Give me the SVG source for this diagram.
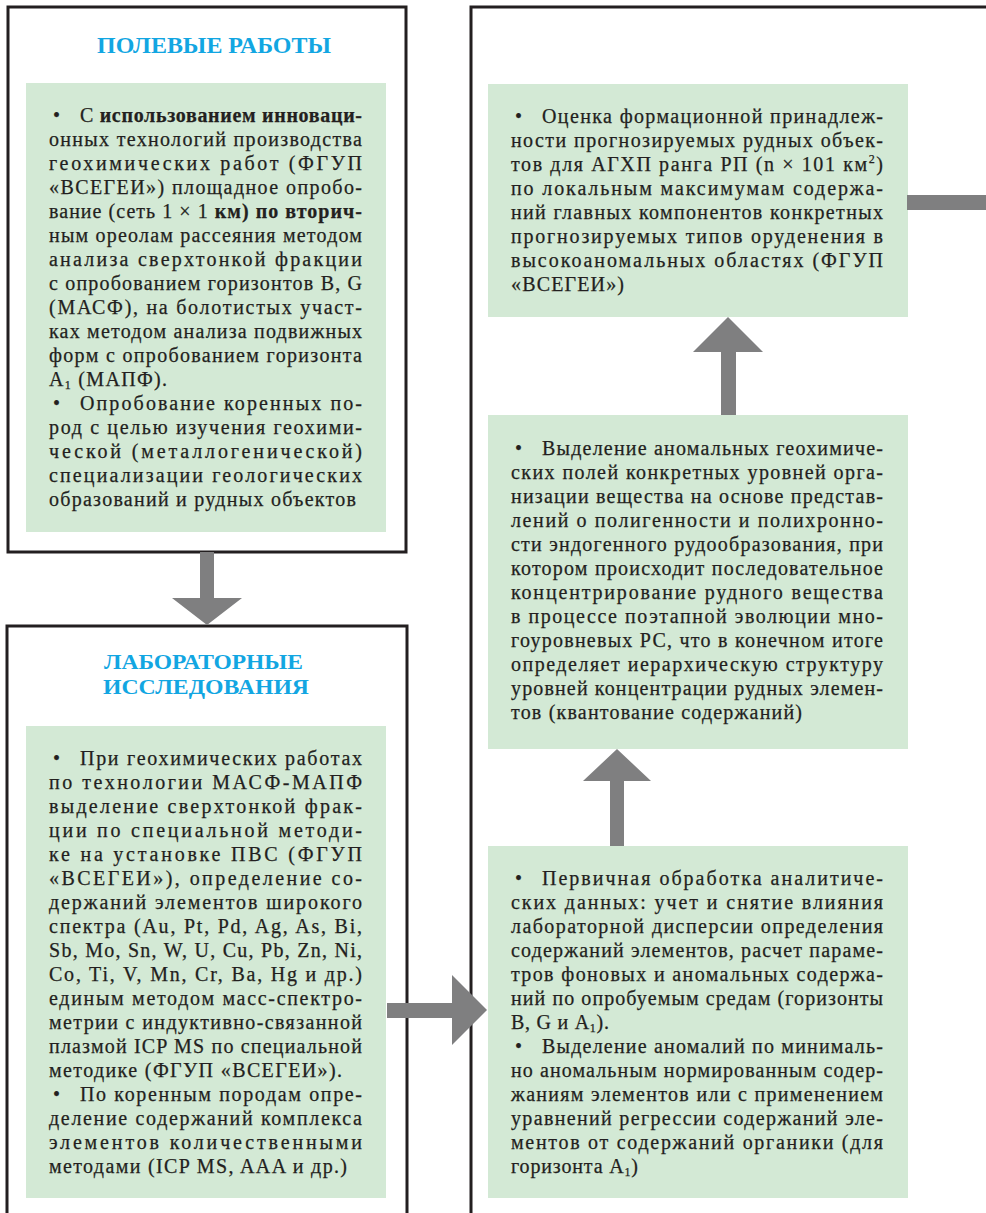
<svg xmlns="http://www.w3.org/2000/svg" width="986" height="1213" viewBox="0 0 986 1213">
<style>
.frame{fill:#ffffff;stroke:#231f20;stroke-width:3}
.panel{fill:#d3e9d5}
.t{font-size:20px;fill:#231f20;stroke:#231f20;stroke-width:0.25}
.b{font-weight:bold}
.ttl{font-weight:bold;fill:#12a6e2}
.sub{font-size:12px}
.arr{fill:#7f7f80}
</style>
<rect x="0" y="0" width="986" height="1213" fill="#ffffff"/>

<g id="node-right-frame">
<rect class="frame" x="471" y="7" width="600" height="1300"/>
</g>

<g id="node-field">
<rect class="frame" x="8" y="7" width="398" height="545"/>
<text class="ttl" font-family="Liberation Serif, serif" font-size="24" x="97" y="53" textLength="234" lengthAdjust="spacingAndGlyphs">ПОЛЕВЫЕ РАБОТЫ</text>
<rect class="panel" x="26" y="83" width="360" height="449"/>
<g class="t" font-family="Liberation Serif, serif">
<text x="53" y="122">•</text>
<text x="80" y="122" textLength="282" lengthAdjust="spacing">С <tspan class="b">использованием инноваци-</tspan></text>
<text x="49" y="146" textLength="313" lengthAdjust="spacing">онных технологий производства</text>
<text x="49" y="170" textLength="313" lengthAdjust="spacing">геохимических работ (ФГУП</text>
<text x="49" y="194" textLength="313" lengthAdjust="spacing">«ВСЕГЕИ») площадное опробо-</text>
<text x="49" y="218" textLength="313" lengthAdjust="spacing">вание (сеть 1 × 1 <tspan class="b">км) по вторич-</tspan></text>
<text x="49" y="242" textLength="313" lengthAdjust="spacing">ным ореолам рассеяния методом</text>
<text x="49" y="266" textLength="313" lengthAdjust="spacing">анализа сверхтонкой фракции</text>
<text x="49" y="290" textLength="313" lengthAdjust="spacing">с опробованием горизонтов B, G</text>
<text x="49" y="314" textLength="313" lengthAdjust="spacing">(МАСФ), на болотистых участ-</text>
<text x="49" y="338" textLength="313" lengthAdjust="spacing">ках методом анализа подвижных</text>
<text x="49" y="362" textLength="313" lengthAdjust="spacing">форм с опробованием горизонта</text>
<text x="49" y="386" textLength="118" lengthAdjust="spacing">A<tspan class="sub" dy="3">1</tspan><tspan dy="-3"> (МАПФ).</tspan></text>
<text x="53" y="410">•</text>
<text x="80" y="410" textLength="282" lengthAdjust="spacing">Опробование коренных по-</text>
<text x="49" y="434" textLength="313" lengthAdjust="spacing">род с целью изучения геохими-</text>
<text x="49" y="458" textLength="313" lengthAdjust="spacing">ческой (металлогенической)</text>
<text x="49" y="482" textLength="313" lengthAdjust="spacing">специализации геологических</text>
<text x="49" y="506" textLength="307" lengthAdjust="spacing">образований и рудных объектов</text>
</g>
</g>

<g id="node-lab">
<rect class="frame" x="7" y="626" width="400" height="700"/>
<text class="ttl" font-family="Liberation Serif, serif" font-size="21" x="104" y="669" textLength="199" lengthAdjust="spacingAndGlyphs">ЛАБОРАТОРНЫЕ</text>
<text class="ttl" font-family="Liberation Serif, serif" font-size="21" x="103" y="694" textLength="206" lengthAdjust="spacingAndGlyphs">ИССЛЕДОВАНИЯ</text>
<rect class="panel" x="26" y="726" width="360" height="472"/>
<g class="t" font-family="Liberation Serif, serif">
<text x="53" y="765">•</text>
<text x="80" y="765" textLength="282" lengthAdjust="spacing">При геохимических работах</text>
<text x="49" y="789" textLength="313" lengthAdjust="spacing">по технологии МАСФ-МАПФ</text>
<text x="49" y="813" textLength="313" lengthAdjust="spacing">выделение сверхтонкой фрак-</text>
<text x="49" y="837" textLength="313" lengthAdjust="spacing">ции по специальной методи-</text>
<text x="49" y="861" textLength="313" lengthAdjust="spacing">ке на установке ПВС (ФГУП</text>
<text x="49" y="885" textLength="313" lengthAdjust="spacing">«ВСЕГЕИ»), определение со-</text>
<text x="49" y="909" textLength="313" lengthAdjust="spacing">держаний элементов широкого</text>
<text x="49" y="933" textLength="313" lengthAdjust="spacing">спектра (Au, Pt, Pd, Ag, As, Bi,</text>
<text x="49" y="957" textLength="313" lengthAdjust="spacing">Sb, Mo, Sn, W, U, Cu, Pb, Zn, Ni,</text>
<text x="49" y="981" textLength="313" lengthAdjust="spacing">Co, Ti, V, Mn, Cr, Ba, Hg и др.)</text>
<text x="49" y="1005" textLength="313" lengthAdjust="spacing">единым методом масс-спектро-</text>
<text x="49" y="1029" textLength="313" lengthAdjust="spacing">метрии с индуктивно-связанной</text>
<text x="49" y="1053" textLength="313" lengthAdjust="spacing">плазмой ICP MS по специальной</text>
<text x="49" y="1077" textLength="293" lengthAdjust="spacing">методике (ФГУП «ВСЕГЕИ»).</text>
<text x="53" y="1101">•</text>
<text x="80" y="1101" textLength="282" lengthAdjust="spacing">По коренным породам опре-</text>
<text x="49" y="1125" textLength="313" lengthAdjust="spacing">деление содержаний комплекса</text>
<text x="49" y="1149" textLength="313" lengthAdjust="spacing">элементов количественными</text>
<text x="49" y="1173" textLength="298" lengthAdjust="spacing">методами (ICP MS, AAA и др.)</text>
</g>
</g>

<g id="node-evaluation">
<rect class="panel" x="488" y="84" width="420" height="233"/>
<g class="t" font-family="Liberation Serif, serif">
<text x="515" y="123">•</text>
<text x="542" y="123" textLength="341" lengthAdjust="spacing">Оценка формационной принадлеж-</text>
<text x="511" y="147" textLength="372" lengthAdjust="spacing">ности прогнозируемых рудных объек-</text>
<text x="511" y="171" textLength="372" lengthAdjust="spacing">тов для АГХП ранга РП (n × 101 км<tspan class="sub" dy="-8">2</tspan><tspan dy="8">)</tspan></text>
<text x="511" y="195" textLength="372" lengthAdjust="spacing">по локальным максимумам содержа-</text>
<text x="511" y="219" textLength="372" lengthAdjust="spacing">ний главных компонентов конкретных</text>
<text x="511" y="243" textLength="372" lengthAdjust="spacing">прогнозируемых типов оруденения в</text>
<text x="511" y="267" textLength="372" lengthAdjust="spacing">высокоаномальных областях (ФГУП</text>
<text x="511" y="291" textLength="113" lengthAdjust="spacing">«ВСЕГЕИ»)</text>
</g>
</g>

<g id="node-anomalies">
<rect class="panel" x="488" y="415" width="420" height="334"/>
<g class="t" font-family="Liberation Serif, serif">
<text x="515" y="455">•</text>
<text x="542" y="455" textLength="341" lengthAdjust="spacing">Выделение аномальных геохимиче-</text>
<text x="511" y="479" textLength="372" lengthAdjust="spacing">ских полей конкретных уровней орга-</text>
<text x="511" y="503" textLength="372" lengthAdjust="spacing">низации вещества на основе представ-</text>
<text x="511" y="527" textLength="372" lengthAdjust="spacing">лений о полигенности и полихронно-</text>
<text x="511" y="551" textLength="372" lengthAdjust="spacing">сти эндогенного рудообразования, при</text>
<text x="511" y="575" textLength="372" lengthAdjust="spacing">котором происходит последовательное</text>
<text x="511" y="599" textLength="372" lengthAdjust="spacing">концентрирование рудного вещества</text>
<text x="511" y="623" textLength="372" lengthAdjust="spacing">в процессе поэтапной эволюции мно-</text>
<text x="511" y="647" textLength="372" lengthAdjust="spacing">гоуровневых РС, что в конечном итоге</text>
<text x="511" y="671" textLength="372" lengthAdjust="spacing">определяет иерархическую структуру</text>
<text x="511" y="695" textLength="372" lengthAdjust="spacing">уровней концентрации рудных элемен-</text>
<text x="511" y="719" textLength="291" lengthAdjust="spacing">тов (квантование содержаний)</text>
</g>
</g>

<g id="node-primary">
<rect class="panel" x="488" y="846" width="420" height="352"/>
<g class="t" font-family="Liberation Serif, serif">
<text x="515" y="885">•</text>
<text x="542" y="885" textLength="341" lengthAdjust="spacing">Первичная обработка аналитиче-</text>
<text x="511" y="909" textLength="372" lengthAdjust="spacing">ских данных: учет и снятие влияния</text>
<text x="511" y="933" textLength="372" lengthAdjust="spacing">лабораторной дисперсии определения</text>
<text x="511" y="957" textLength="372" lengthAdjust="spacing">содержаний элементов, расчет параме-</text>
<text x="511" y="981" textLength="372" lengthAdjust="spacing">тров фоновых и аномальных содержа-</text>
<text x="511" y="1005" textLength="372" lengthAdjust="spacing">ний по опробуемым средам (горизонты</text>
<text x="511" y="1029" textLength="98" lengthAdjust="spacing">B, G и A<tspan class="sub" dy="3">1</tspan><tspan dy="-3">).</tspan></text>
<text x="515" y="1053">•</text>
<text x="542" y="1053" textLength="341" lengthAdjust="spacing">Выделение аномалий по минималь-</text>
<text x="511" y="1077" textLength="372" lengthAdjust="spacing">но аномальным нормированным содер-</text>
<text x="511" y="1101" textLength="372" lengthAdjust="spacing">жаниям элементов или с применением</text>
<text x="511" y="1125" textLength="372" lengthAdjust="spacing">уравнений регрессии содержаний эле-</text>
<text x="511" y="1149" textLength="372" lengthAdjust="spacing">ментов от содержаний органики (для</text>
<text x="511" y="1173" textLength="127" lengthAdjust="spacing">горизонта A<tspan class="sub" dy="3">1</tspan><tspan dy="-3">)</tspan></text>
</g>
</g>

<g id="connectors">
<polygon class="arr" points="200,552 214,552 214,598 242,598 207,625 172,598 200,598"/>
<polygon class="arr" points="387,1003 452,1003 452,975 487,1010 452,1045 452,1018 387,1018"/>
<polygon class="arr" points="721,415 721,352 693,352 728,317 763,352 736,352 736,415"/>
<polygon class="arr" points="610,846 610,781 583,781 617,749 651,781 624,781 624,846"/>
<rect class="arr" x="907" y="195" width="90" height="15"/>
</g>
</svg>
